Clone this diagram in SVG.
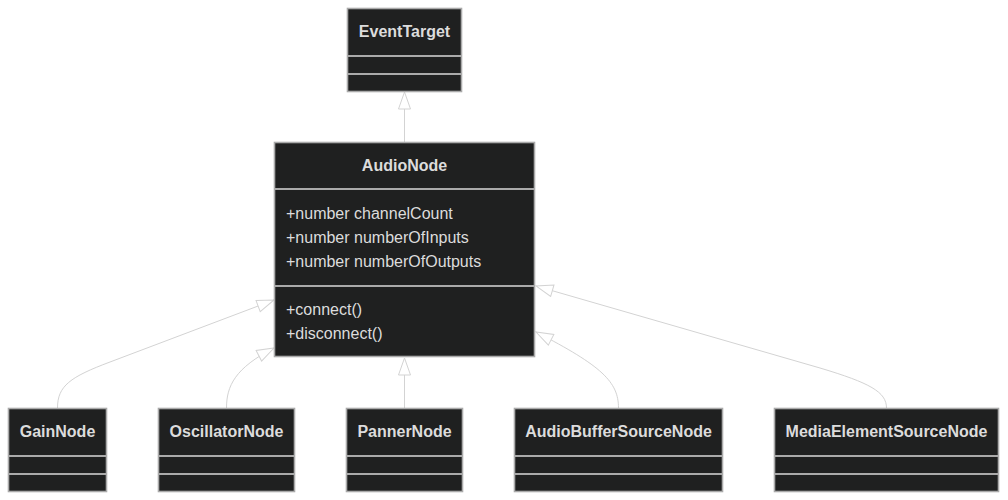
<svg xmlns="http://www.w3.org/2000/svg" width="1008" height="500" viewBox="0 0 1008 500">
<style>
.box{fill:#1f2020;stroke:#aaaaaa;stroke-width:1.6}
.div{stroke:#aaaaaa;stroke-width:2}
.t{font-family:"Liberation Sans",Arial,sans-serif;font-size:16px;fill:#dcdcdc}
.title{font-weight:bold;text-anchor:middle}
.edge{fill:none;stroke:#d3d3d3;stroke-width:1}
</style>
<defs>
<marker id="ext" markerWidth="20" markerHeight="14" refX="18" refY="7" orient="auto" markerUnits="userSpaceOnUse">
<path d="M1,1 V13 L18,7 Z" fill="#ffffff" stroke="#d3d3d3" stroke-width="1"/>
</marker>
</defs>
<rect width="1008" height="500" fill="#ffffff"/>
<g id="connectors">
<path class="edge" d="M404.5,142 L404.5,92" marker-end="url(#ext)"/>
<path class="edge" d="M57.5,408 C57.5,386 70,377 110,362 L274,300" marker-end="url(#ext)"/>
<path class="edge" d="M226.5,408 C226.5,386 235,368 274,348" marker-end="url(#ext)"/>
<path class="edge" d="M404.5,408 L404.5,358" marker-end="url(#ext)"/>
<path class="edge" d="M618.5,408 C618.5,382 602,366 536,332" marker-end="url(#ext)"/>
<path class="edge" d="M886.5,408 C886.5,392 870,383 820,368 L536,286" marker-end="url(#ext)"/>
</g>
<g id="EventTarget">
<rect class="box" x="347.5" y="8.5" width="114" height="83"/>
<line class="div" x1="347.5" y1="56" x2="461.5" y2="56"/>
<line class="div" x1="347.5" y1="74" x2="461.5" y2="74"/>
<text class="t title" x="404.5" y="37">EventTarget</text>
</g>
<g id="AudioNode">
<rect class="box" x="274.5" y="142.5" width="260" height="214"/>
<line class="div" x1="274.5" y1="189" x2="534.5" y2="189"/>
<line class="div" x1="274.5" y1="286" x2="534.5" y2="286"/>
<text class="t title" x="404.5" y="171">AudioNode</text>
<text class="t" x="286" y="219">+number channelCount</text>
<text class="t" x="286" y="243">+number numberOfInputs</text>
<text class="t" x="286" y="267">+number numberOfOutputs</text>
<text class="t" x="286" y="315">+connect()</text>
<text class="t" x="286" y="339">+disconnect()</text>
</g>
<g id="GainNode">
<rect class="box" x="8.5" y="408.5" width="98" height="83"/>
<line class="div" x1="8.5" y1="456" x2="106.5" y2="456"/>
<line class="div" x1="8.5" y1="474" x2="106.5" y2="474"/>
<text class="t title" x="57.5" y="437">GainNode</text>
</g>
<g id="OscillatorNode">
<rect class="box" x="158.5" y="408.5" width="136" height="83"/>
<line class="div" x1="158.5" y1="456" x2="294.5" y2="456"/>
<line class="div" x1="158.5" y1="474" x2="294.5" y2="474"/>
<text class="t title" x="226.5" y="437">OscillatorNode</text>
</g>
<g id="PannerNode">
<rect class="box" x="346.5" y="408.5" width="116" height="83"/>
<line class="div" x1="346.5" y1="456" x2="462.5" y2="456"/>
<line class="div" x1="346.5" y1="474" x2="462.5" y2="474"/>
<text class="t title" x="404.5" y="437">PannerNode</text>
</g>
<g id="AudioBufferSourceNode">
<rect class="box" x="514.5" y="408.5" width="208" height="83"/>
<line class="div" x1="514.5" y1="456" x2="722.5" y2="456"/>
<line class="div" x1="514.5" y1="474" x2="722.5" y2="474"/>
<text class="t title" x="618.5" y="437">AudioBufferSourceNode</text>
</g>
<g id="MediaElementSourceNode">
<rect class="box" x="774.5" y="408.5" width="224" height="83"/>
<line class="div" x1="774.5" y1="456" x2="998.5" y2="456"/>
<line class="div" x1="774.5" y1="474" x2="998.5" y2="474"/>
<text class="t title" x="886.5" y="437">MediaElementSourceNode</text>
</g>
</svg>
